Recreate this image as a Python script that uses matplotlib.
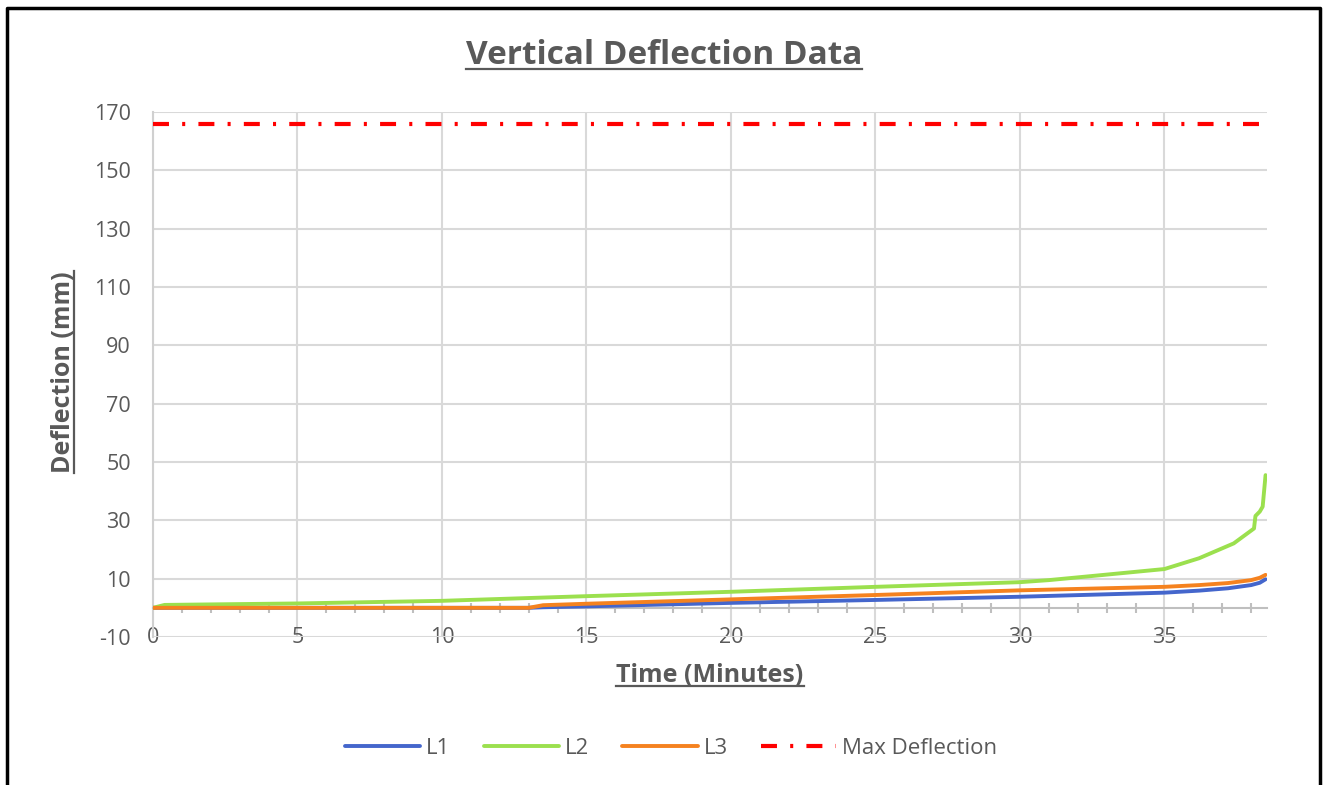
import matplotlib
matplotlib.use("Agg")
import matplotlib.pyplot as plt
from matplotlib.lines import Line2D

# ---- data ----
t_L1 = [0, 13.0, 13.5, 15, 20, 25, 30, 35, 36.2, 37.2, 38.0, 38.3, 38.5]
L1 = [0, 0, 0.2, 0.5, 1.7, 2.7, 3.8, 5.2, 5.9, 6.7, 7.8, 8.6, 9.8]

t_L2 = [0, 0.4, 5, 10, 15, 20, 25, 30, 31, 32.8, 35, 36.2, 37.4, 38.1, 38.15, 38.3, 38.4, 38.5]
L2 = [0, 1.0, 1.5, 2.4, 4.0, 5.5, 7.2, 8.8, 9.5, 11.2, 13.3, 17, 22.1, 27.2, 31.5, 33, 34.7, 45.5]

t_L3 = [0, 13.0, 13.5, 15, 20, 25, 30, 35, 36.2, 37.2, 38.0, 38.3, 38.5]
L3 = [0, 0, 0.9, 1.4, 2.9, 4.4, 6.0, 7.2, 7.8, 8.5, 9.5, 10.3, 11.3]

max_deflection = 165.8
x_ticks = [0, 5, 10, 15, 20, 25, 30, 35]
y_ticks = [-10, 10, 30, 50, 70, 90, 110, 130, 150, 170]

TXT = "#595959"
FONT = "Open Sans"
plt.rcParams["font.family"] = [FONT, "DejaVu Sans"]
plt.rcParams["lines.scale_dashes"] = False
plt.rcParams["axes.unicode_minus"] = False

fig = plt.figure(figsize=(13.25, 7.85), dpi=100)
ax = fig.add_axes([153 / 1325, 1 - 637 / 785, (1267 - 153) / 1325, (637 - 112) / 785])

ax.plot(t_L1, L1, color="#4466CC", lw=2.8, label="L1", zorder=3, solid_capstyle="round")
ax.plot(t_L2, L2, color="#9BE04E", lw=2.8, label="L2", zorder=3, solid_capstyle="round")
ax.plot(t_L3, L3, color="#F5821F", lw=2.8, label="L3", zorder=4, solid_capstyle="round")
ax.axhline(max_deflection, color="#FF0000", lw=3.0, dashes=(11.5, 9.5, 2.2, 9.5),
           label="Max Deflection", zorder=3)

ax.set_xlim(0, 38.55)
ax.set_ylim(-10, 170)
ax.set_xticks(x_ticks)
ax.set_yticks(y_ticks)
ax.set_xticks(range(0, 39), minor=True)
ax.grid(True, which="major", color="#D9D9D9", lw=1.5, zorder=0)
for s in ["top", "right"]:
    ax.spines[s].set_visible(False)
ax.spines["left"].set_color("#D0D0D0")
ax.spines["left"].set_linewidth(1.5)
ax.spines["bottom"].set_position(("data", 0))
ax.spines["bottom"].set_color("#BFBFBF")
ax.spines["bottom"].set_linewidth(1.5)
ax.tick_params(axis="y", length=0, pad=16, labelsize=15.5, labelcolor=TXT)
ax.tick_params(axis="x", which="major", length=0, pad=14, labelsize=15.5, labelcolor=TXT)
ax.tick_params(axis="x", which="minor", direction="inout", length=7, width=1.5, color="#BFBFBF")

title = fig.text(664 / 1325, 1 - 55 / 785, "Vertical Deflection Data", ha="center", va="center",
                 fontsize=24, fontweight="bold", color=TXT)
xlab = fig.text(710 / 1325, 1 - 676 / 785, "Time (Minutes)", ha="center", va="center",
                fontsize=18, fontweight="bold", color=TXT)
ylab = fig.text(64 / 1325, 1 - 372 / 785, "Deflection (mm)", ha="center", va="center",
                rotation=90, fontsize=18, fontweight="bold", color=TXT)

leg = fig.legend(loc="center", bbox_to_anchor=(671 / 1325, 1 - 748 / 785), ncol=4, frameon=False,
                 fontsize=16, handlelength=3.4, handletextpad=0.25, columnspacing=1.5,
                 labelcolor=TXT)

# underline texts
fig.canvas.draw()
r = fig.canvas.get_renderer()
W, H = fig.bbox.width, fig.bbox.height
for t in (title, xlab):
    bb = t.get_window_extent(r)
    y = (bb.y0 + 3) / H
    fig.add_artist(Line2D([bb.x0 / W, bb.x1 / W], [y, y], color=TXT, lw=1.6))
bb = ylab.get_window_extent(r)
x = (bb.x1 - 3) / W
fig.add_artist(Line2D([x, x], [bb.y0 / H, bb.y1 / H], color=TXT, lw=1.6))

# outer frame (left, top, right)
fig.add_artist(Line2D([7.5 / 1325, 7.5 / 1325, 1320 / 1325, 1320 / 1325],
                      [0, 1 - 8 / 785, 1 - 8 / 785, 0], color="black", lw=2.5))

fig.savefig("out.png", dpi=100)
